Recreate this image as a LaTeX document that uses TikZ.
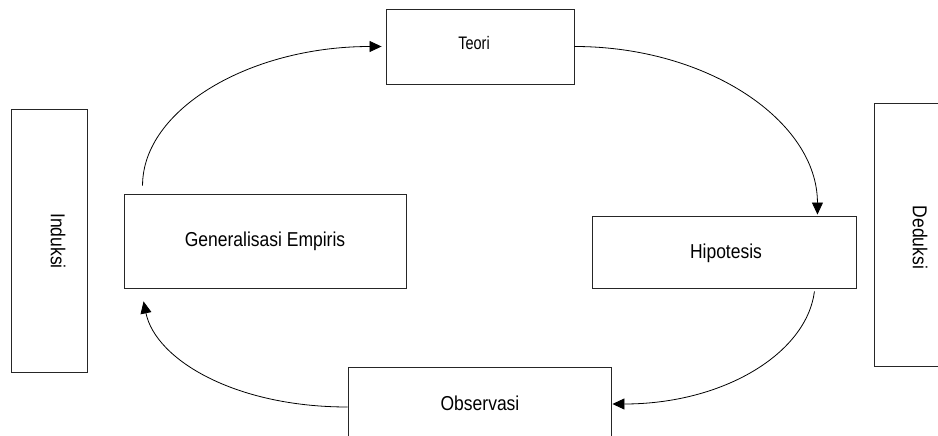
\documentclass[tikz,border=0pt]{standalone}
\usepackage{fontspec}
\setmainfont{Liberation Sans}
\usetikzlibrary{arrows.meta}
% Arial-like labels, drawn a little taller than wide
\newcommand\tallt[1]{\scalebox{1}[1.15]{#1}}
\tikzset{
  box/.style={draw=black!85, line width=0.9pt, fill=white, inner sep=0pt},
  lbl/.style={inner sep=0pt, font=\fontsize{17.5}{20}\selectfont},
  flow/.style={line width=0.8pt, -{Triangle[length=12pt,width=11pt]}}
}
\begin{document}
\begin{tikzpicture}[x=1pt,y=-1pt]
\useasboundingbox (0,0) rectangle (938,436);
\clip (0,0) rectangle (938,436);

% side boxes
\node[box, minimum width=76pt, minimum height=263pt] (induksi) at (49,240.5) {};
\node[lbl, rotate=-90] (induksiT) at (58,241) {\tallt{Induksi}};
\node[box, minimum width=76pt, minimum height=263pt] (deduksi) at (912,234.5) {};
\node[lbl, rotate=-90] (deduksiT) at (920,237.5) {\tallt{Deduksi}};

% cycle boxes
\node[box, minimum width=188pt, minimum height=75pt] (teori) at (480,46.5) {};
\node[lbl, font=\fontsize{14.5}{17}\selectfont] (teoriT) at (474,43) {\scalebox{1}[1.25]{Teori}};
\node[box, minimum width=264pt, minimum height=72pt] (hip) at (724,252) {};
\node[lbl] (hipT) at (726,253) {\tallt{Hipotesis}};
\node[box, minimum width=263pt, minimum height=74pt] (obs) at (479.5,404) {};
\node[lbl] (obsT) at (480,403) {\tallt{Observasi}};
\node[box, minimum width=282pt, minimum height=94pt] (gen) at (265,241) {};
\node[lbl] (genT) at (265,241) {\tallt{Generalisasi Empiris}};

% connectors
\draw[flow] ([xshift=19pt,yshift=8pt]gen.north west)
  .. controls +(0,-76) and +(-132,0) .. ([xshift=-4pt]teori.west);
\draw[flow] (teori.east)
  .. controls +(134,0) and +(0,-93) .. ([xshift=-39pt,yshift=1pt]hip.north east);
\draw[flow] ([xshift=-42pt,yshift=-3pt]hip.south east)
  .. controls +(-8,62) and +(111,0) .. ([xshift=1pt]obs.east);
\draw[flow] ([yshift=-3pt]obs.west)
  .. controls +(-113,0) and +(12,58) .. ([xshift=20pt,yshift=-13pt]gen.south west);
\end{tikzpicture}
\end{document}
